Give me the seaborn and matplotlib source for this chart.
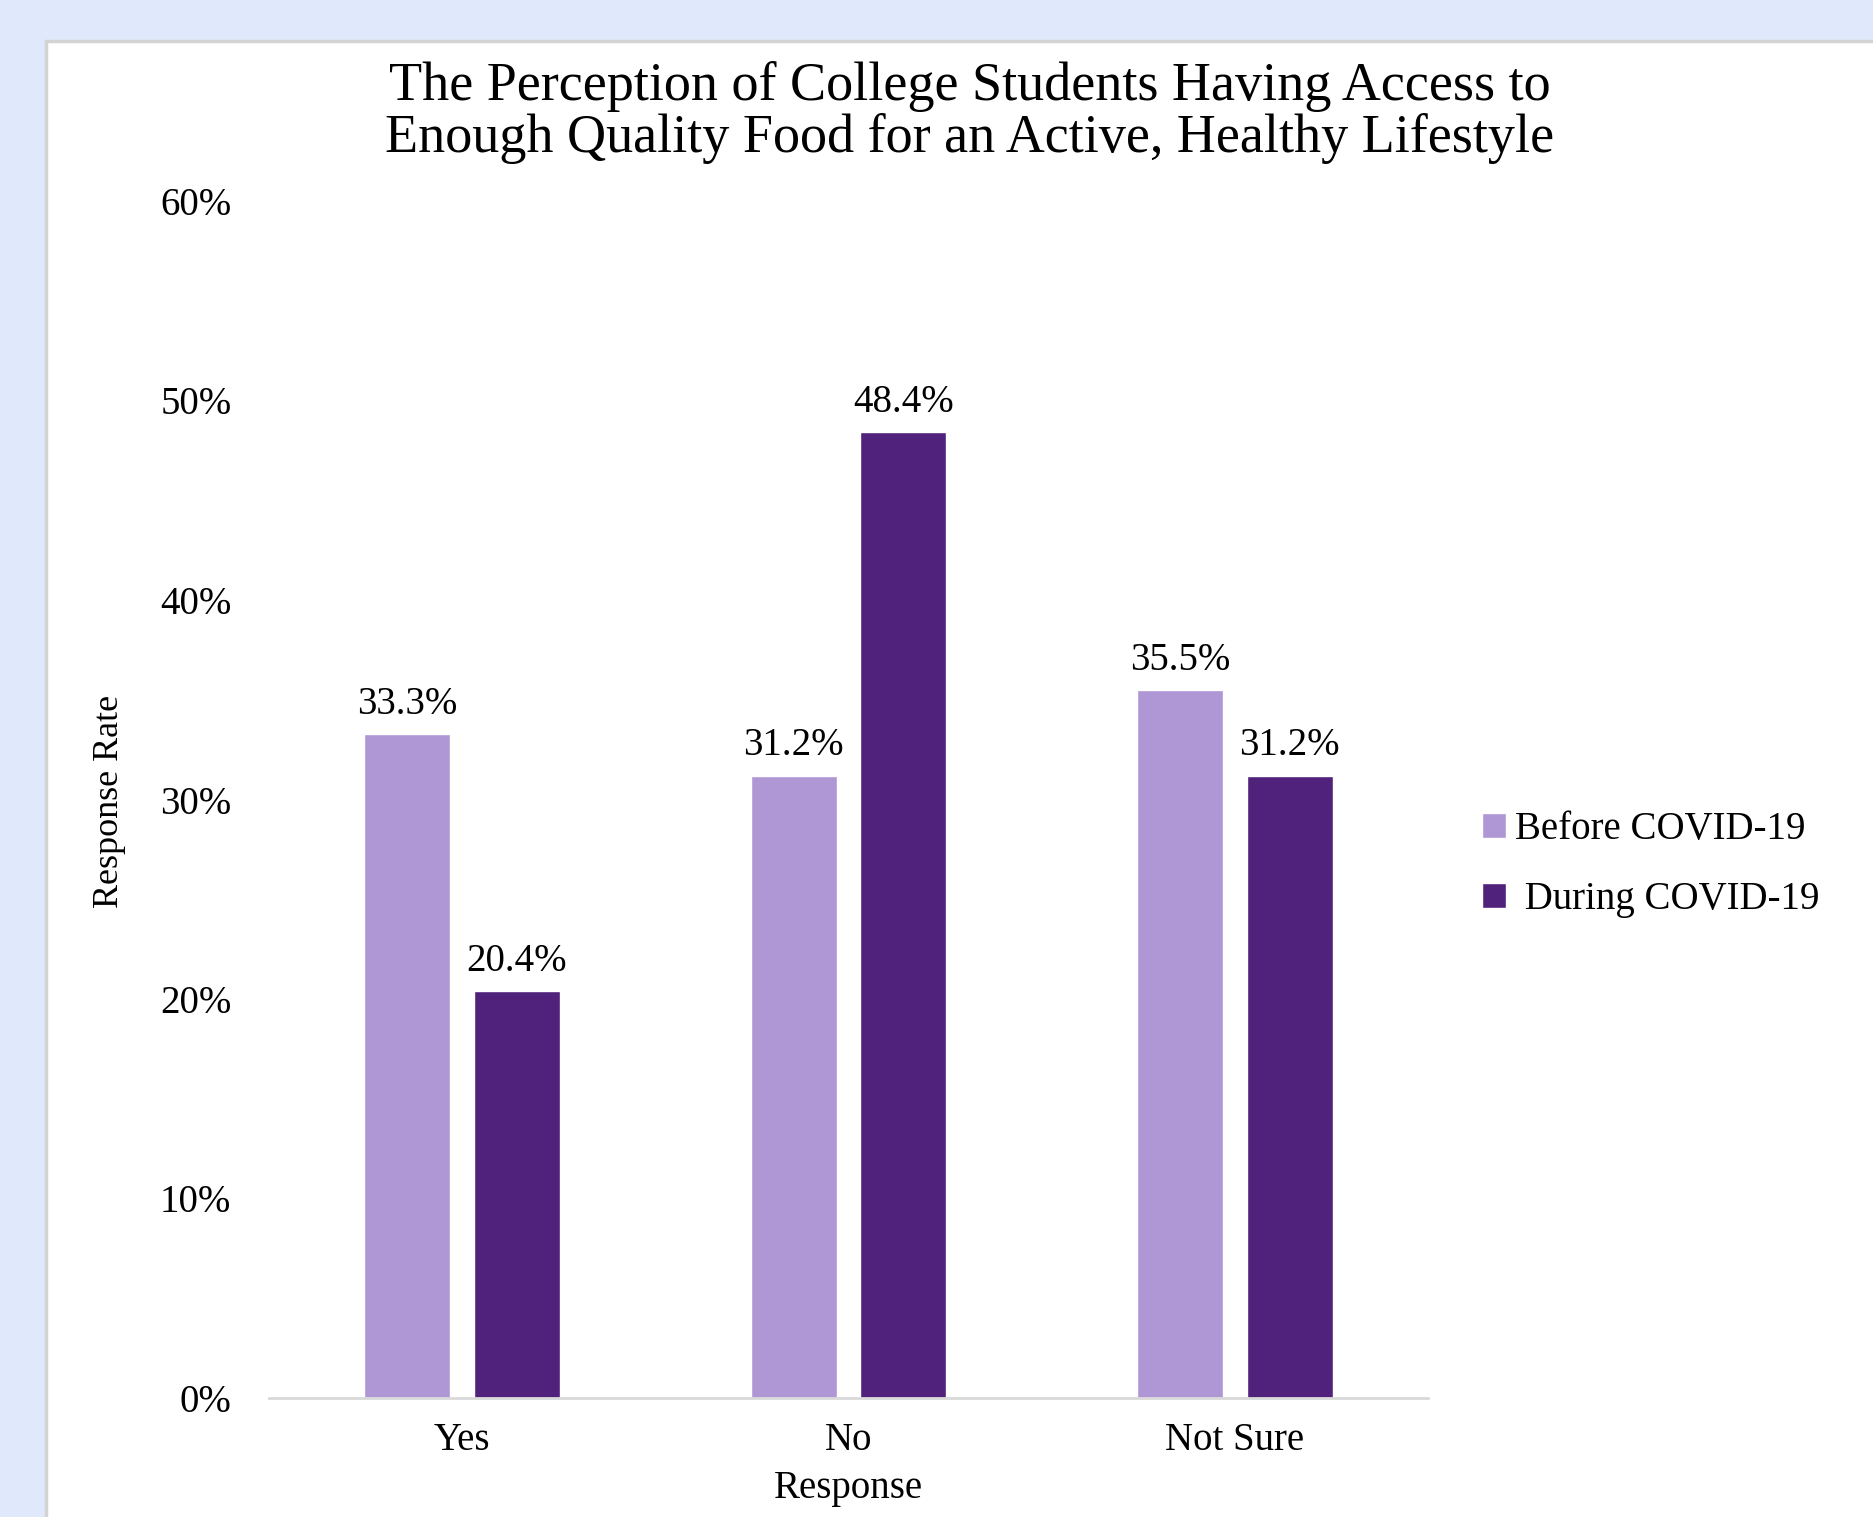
import matplotlib
matplotlib.use("Agg")
import matplotlib.pyplot as plt
from matplotlib.patches import Rectangle
from matplotlib.ticker import FuncFormatter
import seaborn as sns
import pandas as pd

categories = ["Yes", "No", "Not Sure"]
before_vals = [0.333, 0.312, 0.355]
during_vals = [0.204, 0.484, 0.312]
series_names = ["Before COVID-19", "During COVID-19"]
yticks = [0, 0.1, 0.2, 0.3, 0.4, 0.5, 0.6]
title_lines = ["The Perception of College Students Having Access to",
               "Enough Quality Food for an Active, Healthy Lifestyle"]

df = pd.DataFrame({
    "Response": categories * 2,
    "Rate": before_vals + during_vals,
    "Period": [series_names[0]] * 3 + [series_names[1]] * 3,
})

sns.set_theme(style="white")
plt.rcParams["font.family"] = ["Liberation Serif", "DejaVu Serif"]
plt.rcParams["text.color"] = "black"
plt.rcParams["axes.labelcolor"] = "black"
plt.rcParams["xtick.color"] = "black"
plt.rcParams["ytick.color"] = "black"

W, H = 1874, 1517
fig = plt.figure(figsize=(W / 100, H / 100), dpi=100, facecolor="#E0E8FB")
fig.add_artist(Rectangle((46 / W, -0.01), 1.0, 1 - 41 / H + 0.01,
                         transform=fig.transFigure, facecolor="white",
                         edgecolor="#D3D3D3", linewidth=2.5, zorder=0))

ax = fig.add_axes([269 / W, 1 - 1398 / H, (1428 - 269) / W, (1398 - 201) / H])
ax.set_facecolor("none")

palette = {series_names[0]: "#AF96D4", series_names[1]: "#51227B"}
sns.barplot(data=df, x="Response", y="Rate", hue="Period", order=categories,
            hue_order=series_names, palette=palette, width=0.568, gap=0.218,
            saturation=1, ax=ax, legend=True)

for cont in ax.containers:
    ax.bar_label(cont, labels=[f"{v*100:.1f}%" for v in cont.datavalues],
                 padding=8, fontsize=28, color="black")

ax.set_ylim(0, 0.6)
ax.set_xlim(-0.5, 2.5)
ax.set_yticks(yticks)
ax.yaxis.set_major_formatter(FuncFormatter(lambda v, p: f"{v*100:.0f}%"))
ax.tick_params(axis="y", length=0, pad=27, labelsize=28)
ax.tick_params(axis="x", length=0, pad=17, labelsize=28)
for s in ["top", "right", "left"]:
    ax.spines[s].set_visible(False)
ax.spines["bottom"].set_color("#D9D9D9")
ax.spines["bottom"].set_linewidth(2)
ax.set_xlabel("Response", fontsize=28, labelpad=8)
ax.set_ylabel("")
fig.text(110 / W, 1 - 801 / H, "Response Rate", rotation=90, ha="center",
         va="center", fontsize=26)

fig.text(970 / W, 1 - 87 / H, title_lines[0], ha="center", va="center", fontsize=39)
fig.text(970 / W, 1 - 138 / H, title_lines[1], ha="center", va="center", fontsize=39)

handles, _ = ax.get_legend_handles_labels()
leg = ax.legend(handles, ["Before COVID-19", " During COVID-19"],
                loc="upper left", bbox_to_anchor=(1463 / W, 1 - 792 / H),
                bbox_transform=fig.transFigure, frameon=False, fontsize=28,
                handlelength=0.6, handleheight=0.6, handletextpad=0.25,
                labelspacing=0.85, borderpad=0)

fig.savefig("out.png", dpi=100, facecolor=fig.get_facecolor())
